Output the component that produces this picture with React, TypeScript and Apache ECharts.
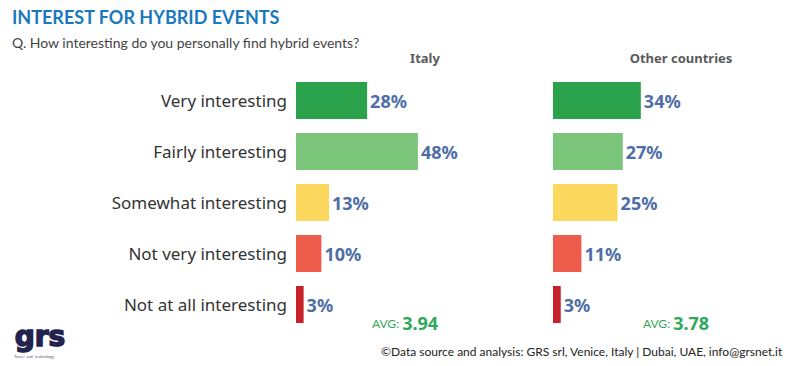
import React, { useEffect, useRef } from "react";
import * as echarts from "echarts";

const categories = [
  "Very interesting",
  "Fairly interesting",
  "Somewhat interesting",
  "Not very interesting",
  "Not at all interesting",
];
const italyValues = [28, 48, 13, 10, 3];
const otherValues = [34, 27, 25, 11, 3];
const barColors = ["#2aa24c", "#7cc67c", "#fcd95e", "#ee5d4b", "#c8212b"];
const groupNames = ["Italy", "Other countries"];
const averages = ["3.94", "3.78"];

export default function App() {
  const ref = useRef<HTMLDivElement>(null);
  useEffect(() => {
    document.body.style.margin = "0";
    if (!ref.current) return;
    const chart = echarts.init(ref.current, null, { renderer: "svg" });
    const mkData = (vals: number[]) =>
      vals.map((v, i) => ({ value: v, itemStyle: { color: barColors[i] } }));
    const labelStyle = {
      show: true,
      position: "right" as const,
      distance: 3,
      formatter: "{c}%",
      color: "#4d6ea6",
      fontFamily: "Noto Sans",
      fontWeight: "bold" as const,
      fontSize: 18,
    };
    chart.setOption({
      animation: false,
      backgroundColor: "#ffffff",
      grid: [
        { left: 296, top: 75, width: 152.4, height: 255 },
        { left: 553, top: 75, width: 155, height: 255 },
      ],
      xAxis: [
        { gridIndex: 0, type: "value", min: 0, max: 60, show: false },
        { gridIndex: 1, type: "value", min: 0, max: 60, show: false },
      ],
      yAxis: [
        {
          gridIndex: 0,
          type: "category",
          data: categories,
          inverse: true,
          axisLine: { show: false },
          axisTick: { show: false },
          axisLabel: {
            margin: 9,
            color: "#333333",
            fontFamily: "Noto Sans",
            fontSize: 17,
          },
        },
        {
          gridIndex: 1,
          type: "category",
          data: categories,
          inverse: true,
          axisLine: { show: false },
          axisTick: { show: false },
          axisLabel: { show: false },
        },
      ],
      series: [
        {
          type: "bar",
          name: groupNames[0],
          xAxisIndex: 0,
          yAxisIndex: 0,
          barWidth: 37,
          data: mkData(italyValues),
          label: labelStyle,
        },
        {
          type: "bar",
          name: groupNames[1],
          xAxisIndex: 1,
          yAxisIndex: 1,
          barWidth: 37,
          data: mkData(otherValues),
          label: labelStyle,
        },
      ],
      graphic: [
        {
          type: "text",
          left: 12,
          top: 8,
          style: {
            text: "INTEREST FOR HYBRID EVENTS",
            fill: "#1a78bd",
            font: "bold 18px Lato",
          },
        },
        {
          type: "text",
          left: 12,
          top: 35,
          style: {
            text: "Q. How interesting do you personally find hybrid events?",
            fill: "#444444",
            font: "14px Lato",
          },
        },
        {
          type: "text",
          x: 425,
          y: 58,
          style: {
            text: groupNames[0],
            fill: "#5a5a5a",
            font: "bold 13px 'Noto Sans'",
            align: "center",
            verticalAlign: "middle",
          },
        },
        {
          type: "text",
          x: 681,
          y: 58,
          style: {
            text: groupNames[1],
            fill: "#5a5a5a",
            font: "bold 13px 'Noto Sans'",
            align: "center",
            verticalAlign: "middle",
          },
        },
        {
          type: "text",
          x: 372,
          y: 323,
          style: {
            text: "{a|AVG: }{b|" + averages[0] + "}",
            verticalAlign: "middle",
            rich: {
              a: { fill: "#34a85a", font: "12px Lato" },
              b: { fill: "#2ea85a", font: "bold 18px 'Noto Sans'" },
            },
          },
        },
        {
          type: "text",
          x: 643,
          y: 323,
          style: {
            text: "{a|AVG: }{b|" + averages[1] + "}",
            verticalAlign: "middle",
            rich: {
              a: { fill: "#34a85a", font: "12px Lato" },
              b: { fill: "#2ea85a", font: "bold 18px 'Noto Sans'" },
            },
          },
        },
        {
          type: "text",
          right: 6,
          top: 345,
          style: {
            text: "©Data source and analysis: GRS srl, Venice, Italy | Dubai, UAE, info@grsnet.it",
            fill: "#222222",
            font: "12px Lato",
          },
        },
        {
          type: "text",
          left: 14,
          top: 322,
          style: {
            text: "grs",
            fill: "#23234f",
            stroke: "#23234f",
            lineWidth: 1.5,
            font: "bold 28px 'DejaVu Sans'",
          },
        },
        {
          type: "text",
          left: 14,
          top: 354,
          style: {
            text: "Travel  and  technology",
            fill: "#555577",
            font: "4px Lato",
          },
        },
      ],
    });
    return () => chart.dispose();
  }, []);
  return <div ref={ref} style={{ width: 789, height: 366 }} />;
}
